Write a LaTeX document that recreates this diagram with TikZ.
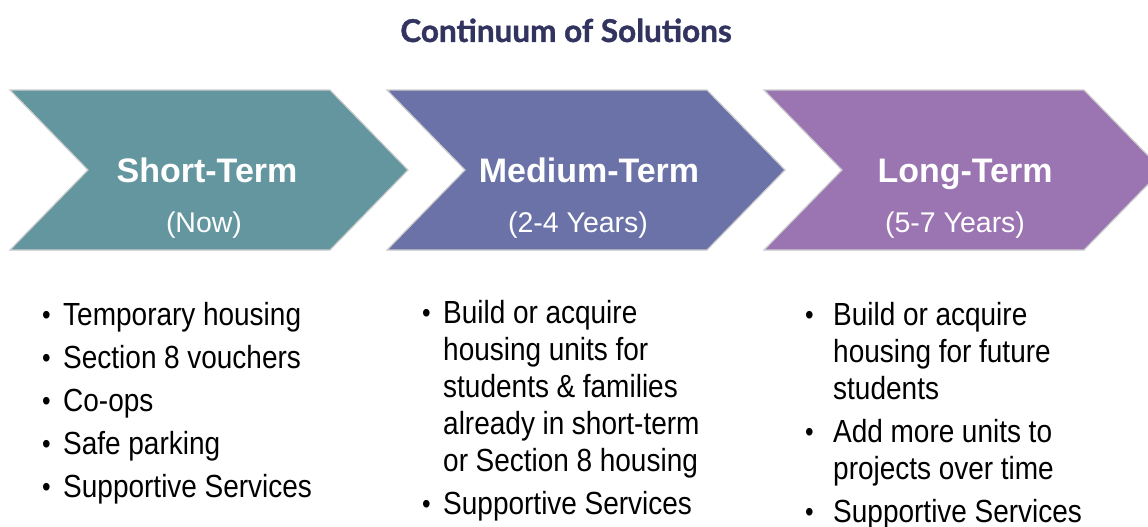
\documentclass[tikz,border=0pt]{standalone}
\usepackage{fontspec}
\setmainfont{Liberation Sans}
\newfontfamily\listfont{Liberation Sans}[FakeStretch=0.875]
\newfontfamily\titlefont{Lato}[BoldFeatures={FakeBold=1.2}]
\definecolor{navy}{HTML}{33335F}
\definecolor{shortcol}{HTML}{63969F}
\definecolor{mediumcol}{HTML}{6A72A8}
\definecolor{longcol}{HTML}{9B74B2}
\definecolor{edgecol}{HTML}{CCCCCC}
\newcommand\bitem[1]{\par\hangindent=#1\hangafter=1\noindent\makebox[#1][l]{\raisebox{1pt}{\fontsize{28}{28}\selectfont\textbullet}}}

\begin{document}
\begin{tikzpicture}[x=1pt, y=-1pt,
    chevron/.style={draw=edgecol, line width=1.2pt},
    heading/.style={text=white, font=\bfseries\fontsize{34}{34}\selectfont, anchor=base, inner sep=0},
    period/.style={text=white, font=\fontsize{28.5}{28.5}\selectfont, anchor=base, inner sep=0},
    bullets/.style={anchor=base west, inner sep=0, text width=330pt, font=\listfont\fontsize{32}{37}\selectfont, execute at begin node={\setlength{\parskip}{6pt}\spaceskip=7.6pt}}]
        \useasboundingbox (0,0) rectangle (1148,527);
        \clip (0,0) rectangle (1148,527);
        % title
        \node[text=navy, font=\titlefont\bfseries\fontsize{31.5}{31.5}\selectfont, anchor=base, inner sep=0] (title) at (566,42) {Continuum of Solutions};

        % chevrons
        \draw[chevron, fill=shortcol] (10,90) -- (330,90) -- (408,170) -- (330,250) -- (10,250) -- (88,170) -- cycle;
        \draw[chevron, fill=mediumcol] (387,90) -- (707,90) -- (785,170) -- (707,250) -- (387,250) -- (465,170) -- cycle;
        \draw[chevron, fill=longcol] (764,90) -- (1084,90) -- (1162,170) -- (1084,250) -- (764,250) -- (842,170) -- cycle;

        \node[heading] (short) at (207,182) {Short-Term};
        \node[period] (shortp) at (204,232) {(Now)};
        \node[heading] (medium) at (589,182) {Medium-Term};
        \node[period] (mediump) at (578,232) {(2-4 Years)};
        \node[heading] (long) at (965,182) {Long-Term};
        \node[period] (longp) at (955,232) {(5-7 Years)};

        % lists
        \node[bullets] (shortlist) at (42,282) {\bitem{21pt}Temporary housing
            \bitem{21pt}Section 8 vouchers
            \bitem{21pt}Co-ops
            \bitem{21pt}Safe parking
            \bitem{21pt}Supportive Services};
        \node[bullets] (mediumlist) at (422,280) {\bitem{21pt}Build or acquire\newline housing units for\newline students \& families\newline already in short-term\newline or Section 8 housing
            \bitem{21pt}Supportive Services};
        \node[bullets] (longlist) at (805,282) {\bitem{28pt}Build or acquire\newline housing for future\newline students
            \bitem{28pt}Add more units to\newline projects over time
            \bitem{28pt}Supportive Services};
    \end{tikzpicture}
\end{document}
